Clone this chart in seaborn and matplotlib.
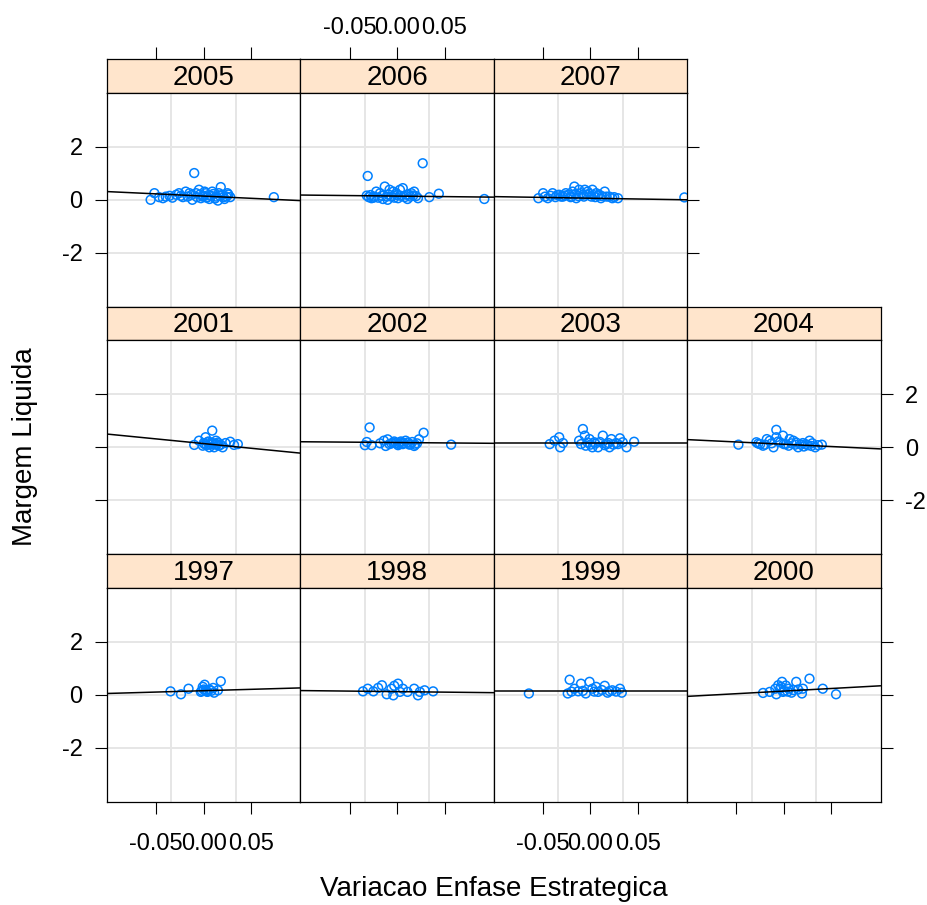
import numpy as np
import pandas as pd
import matplotlib
matplotlib.use("Agg")
import matplotlib.pyplot as plt
import seaborn as sns

# Variacao da enfase estrategica (x) e margem liquida (y), por ano
x_1997 = [-0.035, -0.024, -0.016, -0.003, -0.001, 0.001, 0.002, 0.004, 0.010, 0.011, 0.015, 0.018,
          -0.002, 0.000, 0.003, 0.006, 0.008]
y_1997 = [0.13, 0.02, 0.23, 0.11, 0.30, 0.38, 0.17, 0.11, 0.26, 0.08, 0.17, 0.51,
          0.15, 0.20, 0.13, 0.20, 0.15]

x_1998 = [-0.036, -0.031, -0.025, -0.020, -0.016, -0.011, -0.006, -0.004, -0.003, 0.001,
          0.003, 0.006, 0.011, 0.018, 0.022, 0.024, 0.029, 0.038]
y_1998 = [0.13, 0.23, 0.13, 0.26, 0.36, 0.02, 0.23, -0.02, 0.34, 0.42,
          0.11, 0.23, 0.11, 0.23, -0.02, 0.11, 0.17, 0.13]

x_1999 = [-0.065, -0.024, -0.022, -0.017, -0.013, -0.010, -0.005, -0.001, 0.002, 0.006,
          0.008, 0.015, 0.018, 0.023, 0.031, 0.033,
          -0.020, -0.008, 0.004, 0.012, 0.020, 0.027]
y_1999 = [0.05, 0.05, 0.57, 0.23, 0.13, 0.42, 0.05, 0.49, 0.23, 0.30,
          0.11, 0.34, 0.08, 0.17, 0.23, 0.08,
          0.12, 0.15, 0.12, 0.18, 0.14, 0.12]

x_2000 = [-0.022, -0.015, -0.009, -0.008, -0.006, -0.004, -0.002, -0.001, 0.005, 0.008,
          0.013, 0.019, 0.020, 0.027, 0.041, 0.055,
          -0.003, 0.000, 0.002, 0.004, 0.010, 0.015]
y_2000 = [0.07, 0.11, 0.23, 0.02, 0.36, 0.23, 0.49, 0.11, 0.23, 0.08,
          0.49, 0.05, 0.23, 0.61, 0.23, 0.02,
          0.30, 0.15, 0.35, 0.12, 0.18, 0.20]

x_2001 = [-0.010, -0.005, -0.001, 0.000, 0.002, 0.004, 0.006, 0.009, 0.009, 0.011,
          0.013, 0.016, 0.020, 0.023, 0.028, 0.032, 0.036,
          0.001, 0.003, 0.005, 0.007, 0.008, 0.010, 0.012, 0.014, 0.015, 0.018]
y_2001 = [0.09, 0.25, 0.06, 0.16, 0.38, 0.19, 0.00, 0.63, 0.12, 0.00,
          0.25, 0.06, 0.00, 0.16, 0.21, 0.09, 0.12,
          0.12, 0.08, 0.22, 0.10, 0.18, 0.15, 0.10, 0.12, 0.18, 0.10]

x_2002 = [-0.034, -0.032, -0.029, -0.027, -0.018, -0.014, -0.012, -0.010, -0.006, -0.003,
          0.001, 0.003, 0.006, 0.009, 0.013, 0.016, 0.018, 0.021, 0.023, 0.028, 0.057,
          -0.008, -0.004, -0.001, 0.002, 0.004, 0.007, 0.011, 0.014, 0.019]
y_2002 = [0.08, 0.20, 0.75, 0.08, 0.15, 0.25, 0.05, 0.30, 0.15, 0.22,
          0.08, 0.18, 0.12, 0.25, 0.10, 0.20, 0.05, 0.15, 0.30, 0.55, 0.10,
          0.12, 0.18, 0.15, 0.12, 0.22, 0.16, 0.18, 0.12, 0.10]

x_2003 = [-0.043, -0.038, -0.033, -0.032, -0.029, -0.012, -0.008, -0.006, -0.005, -0.001,
          0.002, 0.004, 0.008, 0.013, 0.017, 0.020, 0.022, 0.027, 0.031, 0.034, 0.038, 0.046,
          -0.010, -0.003, 0.000, 0.005, 0.010, 0.015, 0.019, 0.024, 0.029]
y_2003 = [0.12, 0.25, 0.38, 0.00, 0.16, 0.25, 0.69, 0.44, 0.06, 0.31,
          0.00, 0.19, 0.00, 0.44, 0.12, 0.00, 0.31, 0.16, 0.34, 0.19, 0.00, 0.21,
          0.12, 0.18, 0.10, 0.14, 0.20, 0.08, 0.16, 0.10, 0.12]

x_2004 = [-0.048, -0.029, -0.025, -0.022, -0.018, -0.015, -0.011, -0.008, -0.008, -0.004,
          -0.001, 0.000, 0.005, 0.006, 0.010, 0.012, 0.015, 0.020, 0.021, 0.025, 0.027,
          0.030, 0.033, 0.040,
          -0.027, -0.020, -0.013, -0.006, 0.002, 0.008, 0.013, 0.018, 0.023, 0.029, 0.036]
y_2004 = [0.10, 0.19, 0.12, 0.06, 0.31, 0.25, 0.00, 0.66, 0.38, 0.19,
          0.44, 0.12, 0.06, 0.31, 0.25, 0.10, 0.00, 0.16, 0.03, 0.08, 0.25,
          0.15, 0.00, 0.10,
          0.14, 0.10, 0.15, 0.22, 0.12, 0.15, 0.18, 0.10, 0.12, 0.05, 0.08]

x_2005 = [-0.056, -0.052, -0.043, -0.036, -0.029, -0.026, -0.022, -0.019, -0.015, -0.012,
          -0.010, -0.008, -0.005, -0.003, -0.001, 0.001, 0.002, 0.004, 0.006, 0.008,
          0.009, 0.013, 0.015, 0.016, 0.018, 0.020, 0.022, 0.025, 0.028, 0.074,
          -0.047, -0.040, -0.033, -0.024, -0.017, -0.013, -0.007, -0.004, 0.000, 0.003,
          0.005, 0.010, 0.012, 0.017, 0.021, 0.024, 0.026]
y_2005 = [0.00, 0.25, 0.06, 0.15, 0.19, 0.25, 0.10, 0.31, 0.25, 0.00,
          1.01, 0.25, 0.38, 0.06, 0.12, 0.31, 0.25, 0.10, 0.03, 0.15,
          0.31, 0.12, -0.03, 0.25, 0.48, 0.19, 0.03, 0.25, 0.10, 0.10,
          0.10, 0.12, 0.08, 0.15, 0.12, 0.18, 0.10, 0.20, 0.15, 0.08,
          0.18, 0.22, 0.05, 0.15, 0.10, 0.12, 0.20]

x_2006 = [-0.032, -0.031, -0.027, -0.025, -0.022, -0.018, -0.015, -0.013, -0.011, -0.010,
          -0.008, -0.004, -0.001, 0.001, 0.003, 0.006, 0.010, 0.011, 0.015, 0.018,
          0.022, 0.027, 0.034, 0.044, 0.092,
          -0.030, -0.028, -0.024, -0.020, -0.016, -0.009, -0.006, -0.003, 0.000, 0.004,
          0.008, 0.012, 0.014, 0.017, 0.020]
y_2006 = [0.16, 0.90, 0.06, 0.08, 0.31, 0.25, 0.03, 0.50, 0.12, 0.00,
          0.38, 0.31, 0.25, 0.06, 0.38, 0.44, 0.19, 0.03, 0.25, 0.31,
          0.06, 1.38, 0.10, 0.23, 0.03,
          0.10, 0.18, 0.12, 0.08, 0.15, 0.20, 0.12, 0.08, 0.18, 0.15,
          0.10, 0.20, 0.12, 0.16, 0.14]

x_2007 = [-0.055, -0.050, -0.045, -0.040, -0.033, -0.029, -0.026, -0.020, -0.019, -0.017,
          -0.015, -0.012, -0.008, -0.006, -0.003, 0.001, 0.002, 0.006, 0.008, 0.011,
          0.015, 0.020, 0.023, 0.029, 0.099,
          -0.048, -0.042, -0.037, -0.035, -0.031, -0.027, -0.023, -0.021, -0.016, -0.013,
          -0.010, -0.007, -0.004, -0.001, 0.003, 0.005, 0.009, 0.012, 0.017, 0.025]
y_2007 = [0.06, 0.25, 0.06, 0.25, 0.19, 0.12, 0.25, 0.12, 0.31, 0.50,
          0.06, 0.38, 0.19, 0.38, 0.31, 0.12, 0.38, 0.25, 0.16, 0.06,
          0.31, 0.12, 0.06, 0.06, 0.09,
          0.12, 0.15, 0.10, 0.18, 0.12, 0.16, 0.20, 0.10, 0.22, 0.14,
          0.25, 0.12, 0.20, 0.22, 0.18, 0.10, 0.20, 0.14, 0.12, 0.10]

# Panel layout (rows from top) and fitted lines (intercept, slope) per year
panel_rows = [[2005, 2006, 2007],
              [2001, 2002, 2003, 2004],
              [1997, 1998, 1999, 2000]]
fit_years = [1997, 1998, 1999, 2000, 2001, 2002, 2003, 2004, 2005, 2006, 2007]
fit_intercept = [0.155, 0.12, 0.16, 0.14, 0.14, 0.18, 0.15, 0.115, 0.14, 0.14, 0.06]
fit_slope = [1.03, -0.39, 0.0, 1.96, -3.53, -0.29, 0.0, -1.72, -1.67, -0.39, -0.59]

x_ticks = [-0.05, 0.00, 0.05]
x_tick_labels = ["-0.05", "0.00", "0.05"]
y_ticks = [-2, 0, 2]
y_tick_labels = ["-2", "0", "2"]

series = {
    1997: (x_1997, y_1997), 1998: (x_1998, y_1998), 1999: (x_1999, y_1999),
    2000: (x_2000, y_2000), 2001: (x_2001, y_2001), 2002: (x_2002, y_2002),
    2003: (x_2003, y_2003), 2004: (x_2004, y_2004), 2005: (x_2005, y_2005),
    2006: (x_2006, y_2006), 2007: (x_2007, y_2007),
}
df = pd.concat(
    [pd.DataFrame({"ano": yr, "enfase": xs, "margem": ys}) for yr, (xs, ys) in series.items()],
    ignore_index=True,
)
fits = pd.DataFrame({"ano": fit_years, "b": fit_intercept, "m": fit_slope}).set_index("ano")

sns.set_theme(style="white")
plt.rcParams["font.family"] = ["Liberation Sans", "DejaVu Sans"]
plt.rcParams["axes.unicode_minus"] = False
for key in ("text.color", "axes.labelcolor", "xtick.color", "ytick.color"):
    plt.rcParams[key] = "black"

POINT = "#0080ff"
STRIP = "#ffe5cc"
GRID = "#e6e6e6"
TICK_FS = 17
BIG_FS = 20

W, H = 928, 905
fig = plt.figure(figsize=(W / 100, H / 100), dpi=100)
fig.patch.set_facecolor("white")

X0, COLW = 107.0, 193.4
Y0, ROWH, STRIPH = 59.3, 247.5, 33.5
XLIM = (-0.102, 0.102)
YLIM = (-4.04, 4.04)
TICK_LEN = 8.6


def rect(left, top, w, h):
    return [left / W, 1 - (top + h) / H, w / W, h / H]


def frame(ax):
    for s in ax.spines.values():
        s.set_visible(True)
        s.set_color("black")
        s.set_linewidth(0.9)


n_rows = len(panel_rows)
for r, row in enumerate(panel_rows):
    top = Y0 + ROWH * r
    for c, year in enumerate(row):
        left = X0 + COLW * c
        # strip
        sax = fig.add_axes(rect(left, top, COLW, STRIPH))
        sax.set_facecolor(STRIP)
        sax.set_xlim(XLIM)
        sax.set_ylim(0, 1)
        sax.set_yticks([])
        sax.text(0.5, 0.45, str(year), transform=sax.transAxes, ha="center", va="center",
                 fontsize=BIG_FS, color="black")
        frame(sax)
        if r == 0:
            sax.set_xticks(x_ticks)
            sax.set_xticklabels(x_tick_labels)
            sax.tick_params(axis="x", top=True, bottom=False, labeltop=(c == 1),
                            labelbottom=False, direction="out", length=TICK_LEN,
                            width=0.8, color="black", labelsize=TICK_FS, pad=6)
        else:
            sax.set_xticks([])

        # panel
        ax = fig.add_axes(rect(left, top + STRIPH, COLW, ROWH - STRIPH))
        ax.set_facecolor("white")
        sub = df[df["ano"] == year]
        ax.set_xlim(XLIM)
        ax.set_ylim(YLIM)
        ax.set_axisbelow(True)
        gx = [XLIM[0] + (XLIM[1] - XLIM[0]) * f for f in (1 / 3, 2 / 3)]
        ax.set_xticks(gx, minor=True)
        ax.grid(which="minor", axis="x", color=GRID, lw=1.4)
        ax.grid(which="major", axis="y", color=GRID, lw=1.4)
        ax.grid(which="major", axis="x", visible=False)
        ax.tick_params(which="minor", length=0)

        sns.scatterplot(data=sub, x="enfase", y="margem", ax=ax, color=POINT,
                        facecolor="none", edgecolor=POINT, s=40, linewidth=1.1,
                        marker="o", zorder=3)
        ax.axline((0, fits.loc[year, "b"]), slope=fits.loc[year, "m"], color="black",
                  lw=1.1, zorder=4)
        ax.set_xlim(XLIM)
        ax.set_ylim(YLIM)
        ax.set_xlabel("")
        ax.set_ylabel("")
        frame(ax)

        ax.set_xticks(x_ticks)
        ax.set_xticklabels(x_tick_labels)
        ax.set_yticks(y_ticks)
        ax.set_yticklabels(y_tick_labels)

        last_row = (r == n_rows - 1)
        ax.tick_params(axis="x", which="major", bottom=last_row, top=False,
                       labelbottom=last_row and c in (0, 2), labeltop=False,
                       direction="out", length=TICK_LEN, width=0.8, color="black",
                       labelsize=TICK_FS, pad=14)
        is_left = (c == 0)
        is_right = (c == len(row) - 1)
        ax.tick_params(axis="y", which="major", left=is_left, right=is_right,
                       labelleft=is_left and r in (0, 2), labelright=is_right and r == 1,
                       direction="out", length=TICK_LEN, width=0.8, color="black",
                       labelsize=TICK_FS, pad=9)

fig.text((X0 + 2 * COLW) / W, 1 - 889 / H, "Variacao Enfase Estrategica", ha="center",
         va="center", fontsize=BIG_FS)
fig.text(25 / W, 1 - 447 / H, "Margem Liquida", ha="center", va="center",
         rotation=90, fontsize=BIG_FS)

fig.savefig("out.png", dpi=100, facecolor="white")
